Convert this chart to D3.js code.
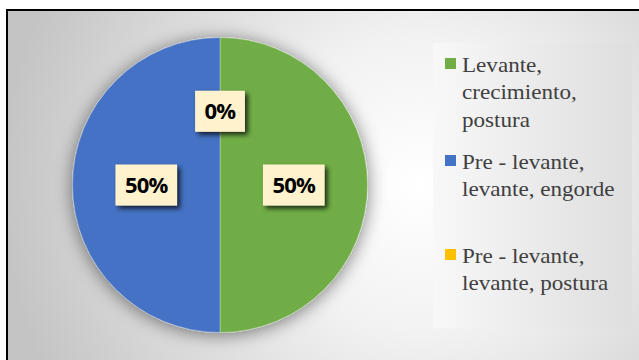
<!DOCTYPE html>
<html><head><meta charset="utf-8">
<script src="https://cdn.jsdelivr.net/npm/d3@7/dist/d3.min.js"></script>
<style>html,body{margin:0;padding:0;background:#fff;overflow:hidden}</style>
</head><body>
<svg id="c" width="639" height="360"></svg>
<script>
const categories = ["Levante, crecimiento, postura", "Pre - levante, levante, engorde", "Pre - levante, levante, postura"];
const legendLines = [["Levante,", "crecimiento,", "postura"], ["Pre - levante,", "levante, engorde"], ["Pre - levante,", "levante, postura"]];
const values = [50, 50, 0];
const labels = ["50%", "50%", "0%"];
const colors = ["#70AD47", "#4472C4", "#FFC000"];

const svg = d3.select("#c");
const defs = svg.append("defs");
const bg = defs.append("radialGradient").attr("id","bg").attr("gradientUnits","userSpaceOnUse")
  .attr("cx",420).attr("cy",185).attr("r",420);
bg.append("stop").attr("offset","0").attr("stop-color","#ffffff");
bg.append("stop").attr("offset","0.35").attr("stop-color","#f2f2f2");
bg.append("stop").attr("offset","1").attr("stop-color","#c4c4c4");
const lg = defs.append("linearGradient").attr("id","lg").attr("x1","0").attr("x2","1").attr("y1","0").attr("y2","0");
lg.append("stop").attr("offset","0").attr("stop-color","#f8f8f8");
lg.append("stop").attr("offset","1").attr("stop-color","#dedede");
const sh = defs.append("filter").attr("id","sh").attr("x","-30%").attr("y","-30%").attr("width","160%").attr("height","160%");
sh.append("feGaussianBlur").attr("in","SourceAlpha").attr("stdDeviation",2.5);
sh.append("feOffset").attr("dx",3).attr("dy",3).attr("result","b");
sh.append("feComponentTransfer").append("feFuncA").attr("type","linear").attr("slope",0.75);
const m = sh.append("feMerge"); m.append("feMergeNode"); m.append("feMergeNode").attr("in","SourceGraphic");
const ps = defs.append("filter").attr("id","ps").attr("x","-30%").attr("y","-30%").attr("width","160%").attr("height","160%");
ps.append("feGaussianBlur").attr("in","SourceAlpha").attr("stdDeviation",9);
ps.append("feOffset").attr("dx",0).attr("dy",2).attr("result","b");
ps.append("feComponentTransfer").append("feFuncA").attr("type","linear").attr("slope",0.5);
const m2 = ps.append("feMerge"); m2.append("feMergeNode"); m2.append("feMergeNode").attr("in","SourceGraphic");

// background + frame
svg.append("rect").attr("x",6).attr("y",9).attr("width",640).attr("height",360).attr("fill","url(#bg)");
svg.append("path").attr("d","M7,370V10H645").attr("fill","none").attr("stroke","#000").attr("stroke-width",2);

// legend panel
svg.append("rect").attr("x",433).attr("y",43).attr("width",199).attr("height",285).attr("fill","url(#lg)");

const cx = 220, cy = 185, r = 147.5;
const pie = d3.pie().sort(null).value(d => d)(values);
const arc = d3.arc().innerRadius(0).outerRadius(r);
const g = svg.append("g").attr("transform",`translate(${cx},${cy})`);
const pg = g.append("g").attr("filter","url(#ps)");
pg.selectAll("path").data(pie.filter(d=>d.value>0)).join("path").attr("d",arc)
  .attr("fill",d=>colors[d.index]).attr("stroke","#ffffff").attr("stroke-width",0.6).attr("stroke-opacity",0.5);

const lab = g.selectAll("g.lab").data(pie).join("g").attr("class","lab")
  .attr("transform",d=>{const c=arc.centroid(d);return `translate(${c[0]},${c[1]})`;});
lab.each(function(d,i){
  const s = d3.select(this);
  const rect = s.append("rect").attr("fill","#FFF2CC").attr("filter","url(#sh)");
  const t = s.append("text").text(labels[i]).attr("text-anchor","middle").attr("dy","0.36em")
    .style("font-family",'"Open Sans"').style("font-weight","bold").style("font-size","22px")
    .attr("fill","#000").attr("letter-spacing",-0.8);
  const w = t.node().getComputedTextLength() + 19;
  rect.attr("x",-w/2).attr("y",-20.5).attr("width",w).attr("height",41);
});

// legend
const itemY = [58, 155, 249];
categories.forEach((c,i)=>{
  svg.append("rect").attr("x",445).attr("y",itemY[i]).attr("width",11).attr("height",11).attr("fill",colors[i]);
  legendLines[i].forEach((ln,j)=>{
    svg.append("text").attr("x",462).attr("y",itemY[i]+14+j*27.5)
      .style("font-family",'"Liberation Serif"').style("font-size","21px")
      .attr("fill","#404040").text(ln)
      .attr("transform",`translate(${462*-0.1},0) scale(1.1,1)`);
  });
});
</script>
</body></html>
